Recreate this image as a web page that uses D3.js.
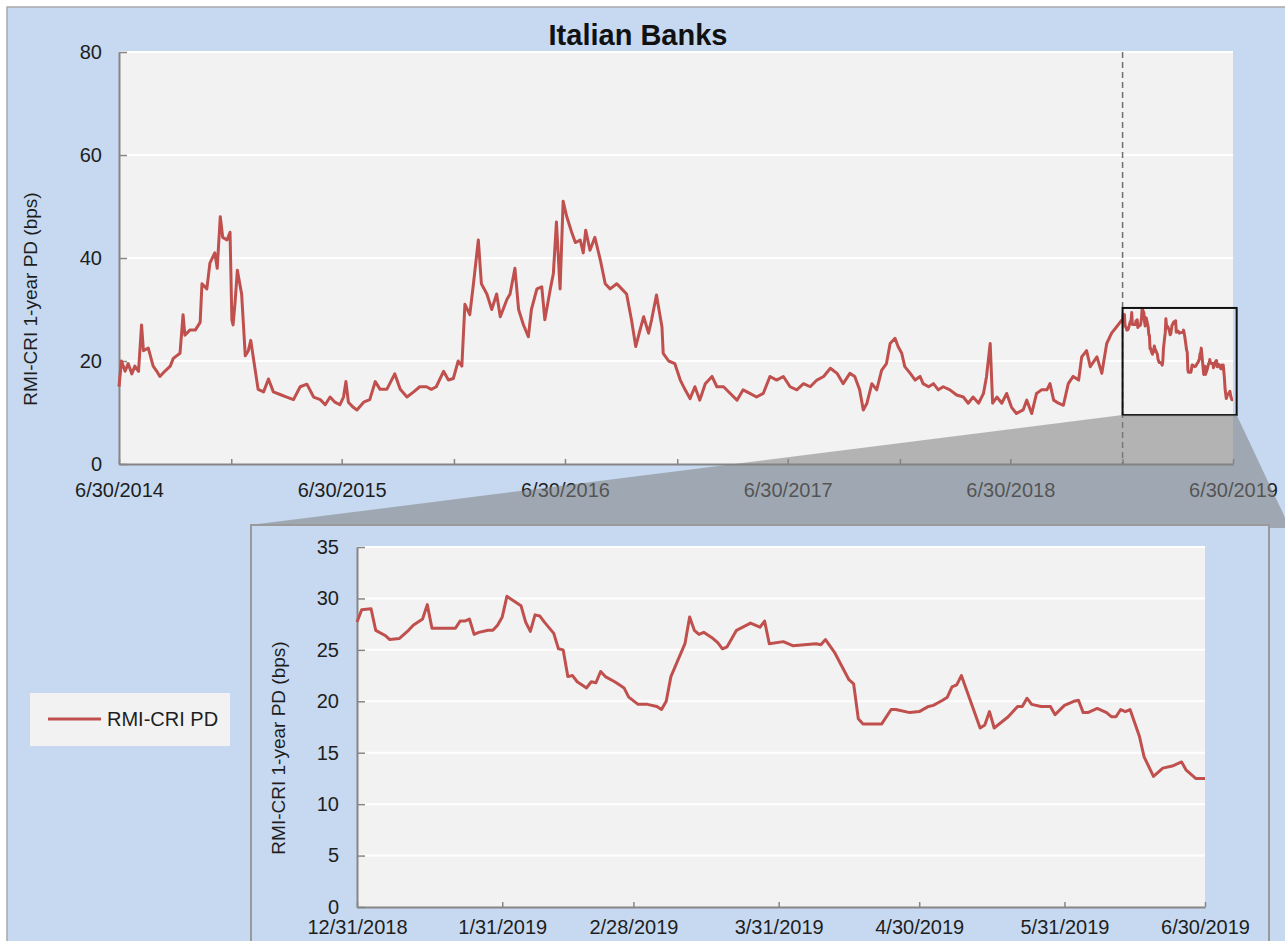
<!DOCTYPE html>
<html>
<head>
<meta charset="utf-8">
<script src="https://cdn.jsdelivr.net/npm/d3@7"></script>
<style>
  body { margin: 0; background: #fff; }
  svg { display: block; }
  text { font-family: "Liberation Sans", Arial, sans-serif; }
</style>
</head>
<body>
<div id="viz"></div>
<script>
const width = 1285;
const height = 941;
const lineColor = '#c0504d';
const panelColor = '#c6d9f0';
const plotColor = '#f2f2f2';
const axisColor = '#868686';
const textColor = '#1e1e1e';

// 5-year history, 6/30/2014 - 12/30/2018 (the 2019 part comes from the inset arrays)
const histDates = [
    '2014-06-30','2014-07-04','2014-07-10','2014-07-15','2014-07-21','2014-07-26','2014-08-01','2014-08-06',
    '2014-08-09','2014-08-17','2014-08-25','2014-08-31','2014-09-05','2014-09-13','2014-09-22','2014-09-27',
    '2014-10-08','2014-10-13','2014-10-16','2014-10-24','2014-11-02','2014-11-10','2014-11-13','2014-11-21',
    '2014-11-26','2014-12-04','2014-12-08','2014-12-13','2014-12-17','2014-12-24','2014-12-29','2015-01-01',
    '2015-01-03','2015-01-06','2015-01-10','2015-01-17','2015-01-23','2015-01-28','2015-02-01','2015-02-06',
    '2015-02-13','2015-02-22','2015-03-02','2015-03-10','2015-03-21','2015-04-01','2015-04-12','2015-04-23',
    '2015-05-04','2015-05-15','2015-05-26','2015-06-03','2015-06-11','2015-06-19','2015-06-27','2015-07-03',
    '2015-07-07','2015-07-11','2015-07-19','2015-07-25','2015-08-05','2015-08-15','2015-08-24','2015-09-01',
    '2015-09-12','2015-09-25','2015-10-04','2015-10-15','2015-10-26','2015-11-05','2015-11-16','2015-11-24',
    '2015-12-02','2015-12-14','2015-12-22','2015-12-30','2016-01-07','2016-01-13','2016-01-18','2016-01-26',
    '2016-02-01','2016-02-09','2016-02-14','2016-02-23','2016-03-02','2016-03-10','2016-03-16','2016-03-27',
    '2016-04-01','2016-04-09','2016-04-15','2016-04-23','2016-05-01','2016-05-06','2016-05-15','2016-05-23',
    '2016-05-28','2016-06-06','2016-06-11','2016-06-16','2016-06-22','2016-06-27','2016-07-03','2016-07-11',
    '2016-07-17','2016-07-25','2016-07-30','2016-08-03','2016-08-10','2016-08-18','2016-08-27','2016-09-04',
    '2016-09-12','2016-09-23','2016-10-01','2016-10-09','2016-10-17','2016-10-24','2016-10-31','2016-11-06',
    '2016-11-14','2016-11-19','2016-11-27','2016-12-06','2016-12-08','2016-12-17','2016-12-27','2017-01-05',
    '2017-01-13','2017-01-21','2017-01-29','2017-02-06','2017-02-15','2017-02-26','2017-03-06','2017-03-17',
    '2017-03-28','2017-04-08','2017-04-18','2017-04-29','2017-05-10','2017-05-21','2017-06-01','2017-06-12',
    '2017-06-23','2017-07-04','2017-07-15','2017-07-26','2017-08-06','2017-08-17','2017-08-28','2017-09-08',
    '2017-09-19','2017-09-29','2017-10-10','2017-10-18','2017-10-26','2017-11-01','2017-11-07','2017-11-15',
    '2017-11-23','2017-12-01','2017-12-09','2017-12-15','2017-12-23','2017-12-28','2018-01-03','2018-01-08',
    '2018-01-17','2018-01-25','2018-02-02','2018-02-07','2018-02-16','2018-02-24','2018-03-04','2018-03-12',
    '2018-03-23','2018-04-03','2018-04-14','2018-04-22','2018-04-30','2018-05-09','2018-05-17','2018-05-22',
    '2018-05-28','2018-06-01','2018-06-08','2018-06-16','2018-06-24','2018-07-02','2018-07-10','2018-07-21',
    '2018-07-27','2018-08-04','2018-08-12','2018-08-20','2018-08-29','2018-09-03','2018-09-09','2018-09-17',
    '2018-09-25','2018-10-03','2018-10-11','2018-10-20','2018-10-25','2018-11-02','2018-11-08','2018-11-19',
    '2018-11-27','2018-12-05','2018-12-13','2018-12-21','2018-12-30'
];
const histValues = [
    15, 20, 18, 19.5, 17.5, 19, 18, 27,
    22, 22.5, 19, 18, 17, 18, 19, 20.5,
    21.5, 29, 25, 26, 26, 27.5, 35, 34,
    39, 41, 38, 48, 44, 43.5, 45, 28,
    27, 31, 37.6, 33, 21, 22, 24, 20,
    14.5, 14, 16.5, 14, 13.5, 13, 12.5, 15,
    15.5, 13, 12.5, 11.5, 13, 12, 11.5, 13,
    16, 12, 11, 10.5, 12, 12.5, 16, 14.5,
    14.5, 17.5, 14.5, 13, 14, 15, 15, 14.5,
    15, 18, 16.3, 16.6, 20, 19, 31, 29,
    35, 43.5, 35, 33, 30, 33, 28.6, 32,
    33, 38, 30, 27, 24.7, 30, 34, 34.4,
    28, 34, 37, 47, 34, 51, 48, 45,
    43, 43.5, 41, 45.4, 41.5, 44, 39.6, 35,
    34, 35, 34, 33, 28, 22.8, 26, 28.6,
    25.4, 28, 32.8, 26.6, 21.5, 20, 19.5, 16.3,
    14.4, 12.7, 15, 12.4, 15.6, 17, 15, 15,
    13.7, 12.4, 14.4, 13.7, 13, 13.7, 17, 16.3,
    17, 15, 14.4, 15.6, 15, 16.3, 17, 18.6,
    17.6, 15.6, 17.6, 17, 14.4, 10.5, 11.8, 15.6,
    14.4, 18.2, 19.5, 23.4, 24.4, 22.8, 21.5, 18.9,
    17.6, 16.3, 17, 15.6, 15, 15.6, 14.4, 15,
    14.4, 13.4, 13, 11.8, 13, 11.8, 13.7, 17,
    23.4, 11.8, 13, 11.8, 13.7, 11, 9.8, 10.5,
    12.4, 9.8, 13.7, 14.4, 14.4, 15.6, 12.4, 11.8,
    11.4, 15.6, 17, 16.3, 20.8, 22, 18.9, 20.8,
    17.6, 23.4, 25.4, 26.6, 28
];

// zoomed period, 12/31/2018 - 6/30/2019
const insetDates = [
    '2018-12-31','2019-01-01','2019-01-03','2019-01-04','2019-01-06','2019-01-07','2019-01-09','2019-01-11',
    '2019-01-12','2019-01-14','2019-01-15','2019-01-16','2019-01-21','2019-01-22','2019-01-23','2019-01-24',
    '2019-01-25','2019-01-26','2019-01-28','2019-01-29','2019-01-30','2019-01-31','2019-02-01','2019-02-02',
    '2019-02-04','2019-02-05','2019-02-06','2019-02-07','2019-02-08','2019-02-09','2019-02-11','2019-02-12',
    '2019-02-13','2019-02-14','2019-02-15','2019-02-16','2019-02-18','2019-02-19','2019-02-20','2019-02-21',
    '2019-02-22','2019-02-24','2019-02-25','2019-02-26','2019-02-27','2019-03-01','2019-03-03','2019-03-05',
    '2019-03-06','2019-03-07','2019-03-08','2019-03-11','2019-03-12','2019-03-13','2019-03-14','2019-03-15',
    '2019-03-17','2019-03-18','2019-03-19','2019-03-20','2019-03-22','2019-03-25','2019-03-27','2019-03-28',
    '2019-03-29','2019-04-01','2019-04-03','2019-04-08','2019-04-09','2019-04-10','2019-04-12','2019-04-15',
    '2019-04-16','2019-04-17','2019-04-18','2019-04-22','2019-04-24','2019-04-25','2019-04-28','2019-04-30',
    '2019-05-02','2019-05-03','2019-05-05','2019-05-06','2019-05-07','2019-05-08','2019-05-09','2019-05-13',
    '2019-05-14','2019-05-15','2019-05-16','2019-05-19','2019-05-21','2019-05-22','2019-05-23','2019-05-24',
    '2019-05-26','2019-05-28','2019-05-29','2019-05-31','2019-06-02','2019-06-03','2019-06-04','2019-06-05',
    '2019-06-07','2019-06-09','2019-06-10','2019-06-11','2019-06-12','2019-06-13','2019-06-14','2019-06-16',
    '2019-06-17','2019-06-19','2019-06-21','2019-06-23','2019-06-25','2019-06-26','2019-06-28','2019-06-30'
];
const insetValues = [
    27.7, 28.9, 29, 26.9, 26.4, 26, 26.1, 26.9,
    27.4, 28, 29.4, 27.1, 27.1, 27.8, 27.8, 28,
    26.5, 26.7, 26.9, 26.9, 27.4, 28.2, 30.2, 29.9,
    29.3, 27.7, 26.8, 28.4, 28.3, 27.7, 26.6, 25.1,
    25, 22.4, 22.5, 21.9, 21.3, 21.9, 21.8, 22.9,
    22.4, 21.9, 21.6, 21.3, 20.4, 19.7, 19.7, 19.5,
    19.2, 20, 22.4, 25.6, 28.2, 26.9, 26.5, 26.7,
    26.1, 25.7, 25.1, 25.3, 26.9, 27.6, 27.2, 27.8,
    25.6, 25.8, 25.4, 25.6, 25.5, 26, 24.7, 22.1,
    21.7, 18.3, 17.8, 17.8, 19.2, 19.2, 18.9, 19,
    19.5, 19.6, 20.1, 20.4, 21.4, 21.6, 22.5, 17.4,
    17.7, 19, 17.4, 18.5, 19.5, 19.5, 20.3, 19.7,
    19.5, 19.5, 18.7, 19.6, 20, 20.1, 18.9, 18.9,
    19.3, 18.9, 18.5, 18.5, 19.2, 19, 19.2, 16.6,
    14.6, 12.7, 13.5, 13.7, 14.1, 13.3, 12.5, 12.5
];

const topTickDates = ['2014-06-30','2014-12-31','2015-06-30','2015-12-31','2016-06-30','2016-12-31',
    '2017-06-30','2017-12-31','2018-06-30','2018-12-31','2019-06-30'];
const topYTicks = [0, 20, 40, 60, 80];
const insetTickDates = ['2018-12-31','2019-01-31','2019-02-28','2019-03-31','2019-04-30','2019-05-31','2019-06-30'];
const insetYTicks = [0, 5, 10, 15, 20, 25, 30, 35];

// zoom window marked on the top chart
const zoomStart = '2018-12-31';
const zoomEnd = '2019-07-06';
const zoomLow = 9.5;
const zoomHigh = 30.3;

const titleText = 'Italian Banks';
const yLabel = 'RMI-CRI 1-year PD (bps)';
const seriesName = 'RMI-CRI PD';

const parse = d3.timeParse('%Y-%m-%d');
const fmt = d3.timeFormat('%-m/%-d/%Y');

const topData = histDates.map((d, i) => ({date: parse(d), value: histValues[i]}))
    .concat(insetDates.map((d, i) => ({date: parse(d), value: insetValues[i]})));
const insetData = insetDates.map((d, i) => ({date: parse(d), value: insetValues[i]}));

const svg = d3.select('#viz')
    .append('svg')
        .attr('width', width)
        .attr('height', height);

svg.append('rect')
    .attr('width', width).attr('height', height).attr('fill', '#fff');
svg.append('rect')
    .attr('x', 7).attr('y', 7)
    .attr('width', width).attr('height', height)
    .attr('fill', panelColor)
    .attr('stroke', '#a9a9a9').attr('stroke-width', 1.5);

function styleAxis(g) {
    g.attr('font-size', 20).attr('font-family', '"Liberation Sans", Arial, sans-serif');
    g.select('.domain').attr('stroke', axisColor).attr('stroke-width', 2);
    g.selectAll('.tick line').attr('stroke', axisColor).attr('stroke-width', 1.5);
    g.selectAll('.tick text').attr('fill', textColor);
}

function drawChart(opt) {
    const x = d3.scaleTime().domain(opt.xDomain).range([opt.left, opt.right]);
    const y = d3.scaleLinear().domain(opt.yDomain).range([opt.bottom, opt.top]);

    svg.append('rect')
        .attr('x', opt.left).attr('y', opt.top)
        .attr('width', opt.right - opt.left).attr('height', opt.bottom - opt.top)
        .attr('fill', plotColor);

    svg.append('g')
        .selectAll('line')
        .data(opt.yTicks.filter(d => d > 0))
        .join('line')
            .attr('x1', opt.left).attr('x2', opt.right)
            .attr('y1', d => y(d)).attr('y2', d => y(d))
            .attr('stroke', '#fff').attr('stroke-width', 2);

    const gx = svg.append('g')
        .attr('transform', `translate(0, ${opt.bottom})`)
        .call(d3.axisBottom(x)
            .tickValues(opt.xTicks)
            .tickSizeInner(-5).tickSizeOuter(0)
            .tickPadding(opt.xPad)
            .tickFormat(opt.xFormat));
    styleAxis(gx);

    const gy = svg.append('g')
        .attr('transform', `translate(${opt.left}, 0)`)
        .call(d3.axisLeft(y)
            .tickValues(opt.yTicks)
            .tickSizeInner(-8).tickSizeOuter(0)
            .tickPadding(opt.yPad));
    styleAxis(gy);

    svg.append('text')
        .attr('transform', `translate(${opt.labelX}, ${opt.labelY}) rotate(-90)`)
        .attr('text-anchor', 'middle')
        .attr('dominant-baseline', 'central')
        .attr('font-size', 19)
        .attr('fill', textColor)
        .text(yLabel);

    return {x, y};
}

// ---------- top chart ----------
const topChart = drawChart({
    left: 119, right: 1233, top: 52, bottom: 464,
    xDomain: [parse('2014-06-30'), parse('2019-06-30')],
    yDomain: [0, 80],
    xTicks: topTickDates.map(parse),
    yTicks: topYTicks,
    xFormat: d => d.getMonth() === 5 ? fmt(d) : '',
    xPad: 19, yPad: 17,
    labelX: 30, labelY: 299
});

svg.append('line')
    .attr('x1', topChart.x(parse(zoomStart))).attr('x2', topChart.x(parse(zoomStart)))
    .attr('y1', topChart.y(80)).attr('y2', topChart.y(0))
    .attr('stroke', '#6f6f6f').attr('stroke-width', 1.5)
    .attr('stroke-dasharray', '6,4');

svg.append('path')
    .datum(topData)
    .attr('fill', 'none')
    .attr('stroke', lineColor)
    .attr('stroke-width', 3)
    .attr('stroke-linejoin', 'round')
    .attr('d', d3.line().x(d => topChart.x(d.date)).y(d => topChart.y(d.value)));

const zx0 = topChart.x(parse(zoomStart)), zx1 = topChart.x(parse(zoomEnd));
const zy0 = topChart.y(zoomHigh), zy1 = topChart.y(zoomLow);
svg.append('rect')
    .attr('x', zx0).attr('y', zy0)
    .attr('width', zx1 - zx0).attr('height', zy1 - zy0)
    .attr('fill', 'none').attr('stroke', '#111').attr('stroke-width', 2);

svg.append('text')
    .attr('x', 638).attr('y', 45)
    .attr('text-anchor', 'middle')
    .attr('font-size', 29).attr('font-weight', 'bold')
    .attr('fill', '#111')
    .text(titleText);

// ---------- inset panel ----------
const inset = {x: 251, y: 525, w: 1018, h: 440};

svg.append('polygon')
    .attr('points', [[zx0, zy1], [zx1, zy1], [1290, inset.y + 3], [inset.x, inset.y]].join(' '))
    .attr('fill', '#808080').attr('fill-opacity', 0.55);

svg.append('rect')
    .attr('x', inset.x).attr('y', inset.y)
    .attr('width', inset.w).attr('height', inset.h)
    .attr('fill', panelColor)
    .attr('stroke', '#9a9a9a').attr('stroke-width', 2);

const bottomChart = drawChart({
    left: 357, right: 1205, top: 547, bottom: 907,
    xDomain: [parse('2018-12-31'), parse('2019-06-30')],
    yDomain: [0, 35],
    xTicks: insetTickDates.map(parse),
    yTicks: insetYTicks,
    xFormat: fmt,
    xPad: 13, yPad: 18,
    labelX: 278, labelY: 748
});

svg.append('path')
    .datum(insetData)
    .attr('fill', 'none')
    .attr('stroke', lineColor)
    .attr('stroke-width', 3)
    .attr('stroke-linejoin', 'round')
    .attr('d', d3.line().x(d => bottomChart.x(d.date)).y(d => bottomChart.y(d.value)));

// ---------- legend ----------
const legend = svg.append('g').attr('transform', 'translate(30, 693)');
legend.append('rect')
    .attr('width', 200).attr('height', 53)
    .attr('fill', plotColor);
legend.append('line')
    .attr('x1', 18).attr('x2', 71).attr('y1', 26).attr('y2', 26)
    .attr('stroke', lineColor).attr('stroke-width', 3);
legend.append('text')
    .attr('x', 77).attr('y', 33)
    .attr('font-size', 20)
    .attr('fill', textColor)
    .text(seriesName);
</script>
</body>
</html>
